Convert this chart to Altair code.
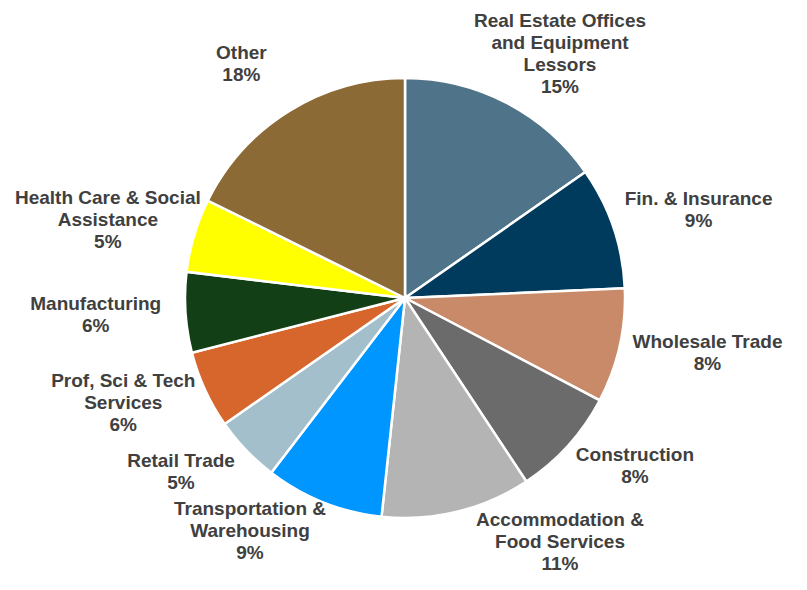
import altair as alt
import pandas as pd

categories = [
    "Real Estate Offices\nand Equipment\nLessors",
    "Fin. & Insurance",
    "Wholesale Trade",
    "Construction",
    "Accommodation &\nFood Services",
    "Transportation &\nWarehousing",
    "Retail Trade",
    "Prof, Sci & Tech\nServices",
    "Manufacturing",
    "Health Care & Social\nAssistance",
    "Other",
]
values = [15.3, 9.0, 8.4, 8.0, 11.0, 8.7, 4.9, 5.7, 5.9, 5.4, 17.7]
colors = ["#4F7489", "#003A5D", "#C88A68", "#6B6B6B", "#B4B4B4", "#0096FF",
          "#A3BFCB", "#D6662B", "#133F17", "#FFFF00", "#8C6A35"]

pct = [f"{round(v)}%" for v in values]
df = pd.DataFrame({
    "cat": categories,
    "value": values,
    "idx": list(range(len(values))),
    "text": [c + "\n" + p for c, p in zip(categories, pct)],
    "nlines": [len((c + "\n" + p).split("\n")) for c, p in zip(categories, pct)],
})

W, H = 785, 568
CX, CY = 397, 290
R = 220
LH = 22

base = alt.Chart(df)

pie = base.mark_arc(outerRadius=R, stroke="white", strokeWidth=2.5).encode(
    theta=alt.Theta("value:Q", stack=True),
    order=alt.Order("idx:Q"),
    color=alt.Color("cat:N", scale=alt.Scale(domain=categories, range=colors), legend=None),
    x=alt.value(CX),
    y=alt.value(CY),
)

labels = base.transform_window(
    cum="sum(value)", sort=[alt.SortField("idx")], frame=[None, 0]
).transform_joinaggregate(
    total="sum(value)"
).transform_calculate(
    mid="(datum.cum - datum.value/2) / datum.total * 2 * PI",
    s="sin(datum.mid)",
    c="cos(datum.mid)",
).transform_calculate(
    px=f"{CX} + 310 * (datum.s > 0 ? 1 : -1) * max(abs(datum.s), 0.5)",
    py=f"{CY} - (datum.c > 0 ? 275 : 251) * datum.c - (datum.nlines - 1) * {LH} / 2",
).mark_text(
    lineBreak="\n", align="center", baseline="middle", font="Liberation Sans",
    fontWeight="bold", fontSize=19, lineHeight=LH, color="#404040",
).encode(
    x=alt.X("px:Q", scale=None),
    y=alt.Y("py:Q", scale=None),
    text="text:N",
)

chart = alt.layer(pie, labels).properties(
    width=W, height=H, padding=0, autosize=alt.AutoSizeParams(type="none")
).configure_view(stroke=None)

chart.save("out.html", embed_options={"renderer": "svg", "actions": False})
